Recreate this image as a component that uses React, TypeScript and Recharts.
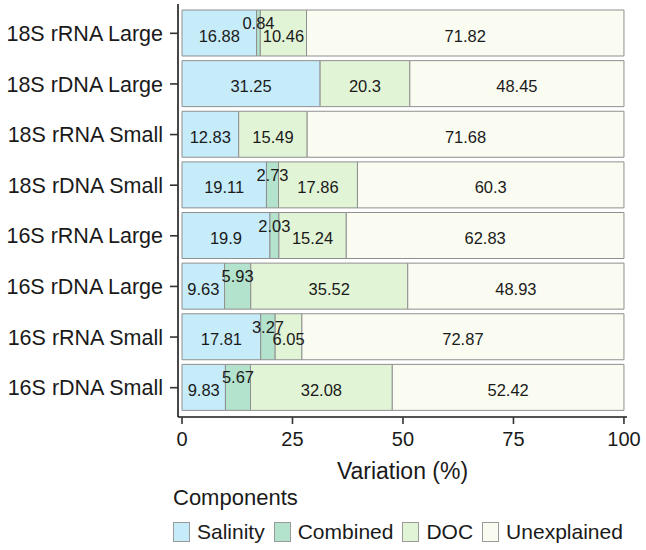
import { BarChart, Bar, XAxis, YAxis, Legend, LabelList } from 'recharts';

const FONT = '"Liberation Sans", Arial, sans-serif';

const CATEGORIES = [
  '18S rRNA Large',
  '18S rDNA Large',
  '18S rRNA Small',
  '18S rDNA Small',
  '16S rRNA Large',
  '16S rDNA Large',
  '16S rRNA Small',
  '16S rDNA Small',
];
const SALINITY = [16.88, 31.25, 12.83, 19.11, 19.9, 9.63, 17.81, 9.83];
const COMBINED = [0.84, 0, 0, 2.73, 2.03, 5.93, 3.27, 5.67];
const DOC = [10.46, 20.3, 15.49, 17.86, 15.24, 35.52, 6.05, 32.08];
const UNEXPLAINED = [71.82, 48.45, 71.68, 60.3, 62.83, 48.93, 72.87, 52.42];
const X_TICKS = [0, 25, 50, 75, 100];

const SERIES = [
  { key: 'Salinity', color: '#c6ecf9' },
  { key: 'Combined', color: '#b4e3cd' },
  { key: 'DOC', color: '#e2f4d6' },
  { key: 'Unexplained', color: '#fbfcf1' },
];

const data = CATEGORIES.map((name, i) => ({
  name,
  Salinity: SALINITY[i],
  Combined: COMBINED[i],
  DOC: DOC[i],
  Unexplained: UNEXPLAINED[i],
}));

// value text inside each segment; the thin "Combined" slices get lifted up
const makeLabel = (dy: number) => (props: any) => {
  const { x, y, width, height, value } = props;
  if (!value) return null;
  return (
    <text
      x={Number(x) + Number(width) / 2}
      y={Number(y) + Number(height) / 2 + dy}
      textAnchor="middle"
      dominantBaseline="central"
      fontSize={16.5}
      fontFamily={FONT}
      fill="#1a1a1a"
    >
      {value}
    </text>
  );
};

const LegendBox = () => (
  <div style={{ fontFamily: FONT, color: '#1a1a1a' }}>
    <div style={{ fontSize: 22, lineHeight: '26px' }}>Components</div>
    <div style={{ display: 'flex', alignItems: 'center', marginTop: 9 }}>
      {SERIES.map((s) => (
        <div key={s.key} style={{ display: 'flex', alignItems: 'center', marginRight: 9 }}>
          <span
            style={{
              width: 15,
              height: 18,
              background: s.color,
              border: '1px solid #9a9a9a',
              display: 'inline-block',
            }}
          />
          <span style={{ fontSize: 21, marginLeft: 7, lineHeight: '24px' }}>{s.key}</span>
        </div>
      ))}
    </div>
  </div>
);

export default function App() {
  return (
    <div style={{ position: 'absolute', left: 0, top: 0, width: 646, height: 550, background: '#fff' }}>
      <BarChart
        width={646}
        height={550}
        data={data}
        layout="vertical"
        barSize={46}
        margin={{ top: 4, right: 19, bottom: 103, left: 0 }}
      >
        <XAxis
          type="number"
          domain={[0, 100]}
          ticks={X_TICKS}
          padding={{ left: 4, right: 3 }}
          height={30}
          axisLine={{ stroke: '#1a1a1a', strokeWidth: 1.6 }}
          tickLine={{ stroke: '#333', strokeWidth: 1.6 }}
          tickSize={7}
          tickMargin={8}
          tick={{ fontSize: 20, fontFamily: FONT, fill: '#1a1a1a' }}
          label={{
            value: 'Variation (%)',
            position: 'bottom',
            offset: 16,
            fontSize: 23,
            fontFamily: FONT,
            fill: '#1a1a1a',
          }}
        />
        <XAxis
          xAxisId="top"
          orientation="top"
          type="number"
          domain={[0, 100]}
          height={0}
          tick={false}
          tickLine={false}
          axisLine={{ stroke: '#1a1a1a', strokeWidth: 1.6 }}
        />
        <YAxis
          type="category"
          dataKey="name"
          width={178}
          padding={{ top: 4, bottom: 4 }}
          axisLine={{ stroke: '#1a1a1a', strokeWidth: 1.6 }}
          tickLine={{ stroke: '#333', strokeWidth: 1.6 }}
          tickSize={8}
          tickMargin={7}
          tick={{ fontSize: 21.5, fontFamily: FONT, fill: '#1a1a1a' }}
        />
        <YAxis
          yAxisId="right"
          orientation="right"
          type="category"
          dataKey="name"
          width={0}
          tick={false}
          tickLine={false}
          axisLine={{ stroke: '#1a1a1a', strokeWidth: 1.6 }}
        />
        <Legend
          layout="horizontal"
          verticalAlign="middle"
          align="center"
          content={() => <LegendBox />}
          wrapperStyle={{ position: 'absolute', left: 173, top: 485, width: 470 }}
        />
        {SERIES.map((s) => (
          <Bar
            key={s.key}
            dataKey={s.key}
            stackId="v"
            fill={s.color}
            stroke="#8f8f8f"
            strokeWidth={1}
            isAnimationActive={false}
          >
            <LabelList dataKey={s.key} content={makeLabel(s.key === 'Combined' ? -10 : 2.5)} />
          </Bar>
        ))}
      </BarChart>
    </div>
  );
}
